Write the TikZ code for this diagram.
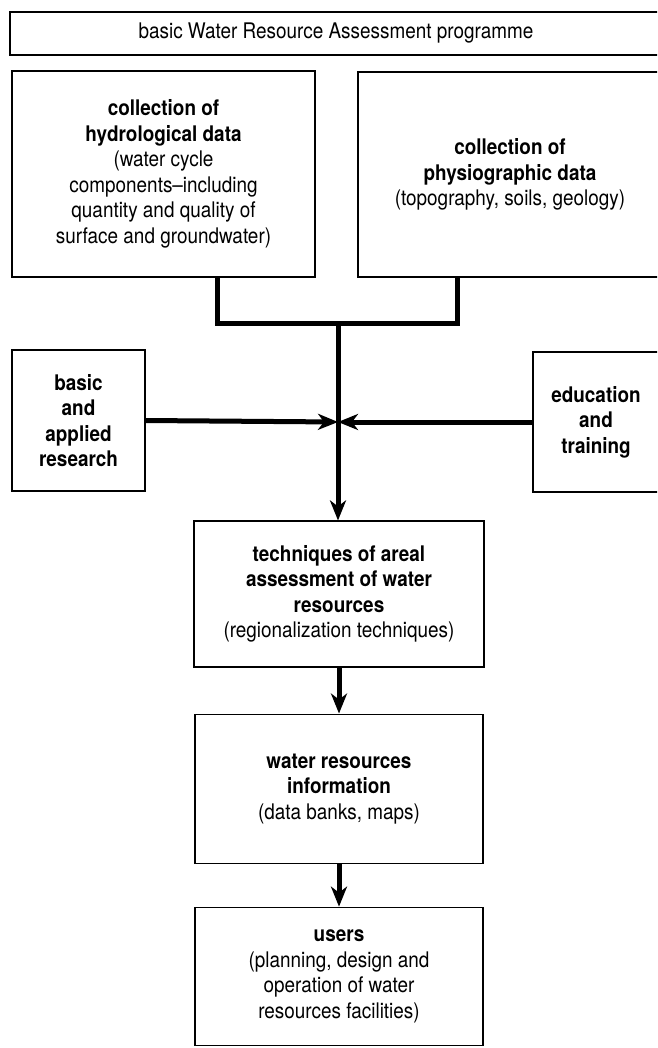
\documentclass[tikz,border=0pt]{standalone}
\usepackage{fontspec}
\setmainfont{TeX Gyre Heros}[FakeStretch=0.88]
\usetikzlibrary{arrows.meta,positioning}

\begin{document}
\begin{tikzpicture}[x=1pt,y=-1pt]
% Define styles
\tikzstyle{box} = [rectangle, draw=black, line width=1.1pt, align=center, inner sep=4pt, font=\fontsize{21.5}{25.5}\selectfont]
\tikzstyle{conn} = [line width=5pt]
\tikzstyle{arrow} = [line width=5pt, -{Stealth[length=20pt,width=16pt,inset=6pt]}]

\useasboundingbox (0,0) rectangle (657,1048);
\clip (0,0) rectangle (657,1048);

% Draw nodes
\node (banner) [box, minimum width=652pt, minimum height=43pt] at (336,33.5) {basic Water Resource Assessment programme};
\node (hydro) [box, minimum width=303pt, minimum height=206pt] at (163.5,174) {\textbf{collection of}\\\textbf{hydrological data}\\(water cycle\\components--including\\quantity and quality of\\surface and groundwater)};
\node (phys) [box, minimum width=304pt, minimum height=205pt] at (510,174.5) {\textbf{collection of}\\\textbf{physiographic data}\\(topography, soils, geology)};
\node (research) [box, minimum width=133pt, minimum height=141pt] at (78.5,420.5) {\textbf{basic}\\\textbf{and}\\\textbf{applied}\\\textbf{research}};
\node (edu) [box, minimum width=126pt, minimum height=140pt] at (596,422) {\textbf{education}\\\textbf{and}\\\textbf{training}};
\node (tech) [box, minimum width=290pt, minimum height=146pt] at (339,594) {\textbf{techniques of areal}\\\textbf{assessment of water}\\\textbf{resources}\\(regionalization techniques)};
\node (water) [box, minimum width=288pt, minimum height=149pt, below=46pt of tech] {\textbf{water resources}\\\textbf{information}\\(data banks, maps)};
\node (users) [box, minimum width=288pt, minimum height=138pt, below=43pt of water] {\textbf{users}\\(planning, design and\\operation of water\\resources facilities)};

\coordinate (bar) at (338,323);
\coordinate (jn) at (338,422);

% Draw arrows
\draw [conn] ([xshift=54pt]hydro.south) |- (bar) -| ([xshift=-53pt]phys.south);
\draw [conn] (bar) -- (jn);
\draw [arrow] (jn) -- (jn |- tech.north);
\draw [arrow] (research.east) -- (jn);
\draw [arrow] (edu.west) -- (jn);
\draw [arrow] (tech.south) -- (tech.south |- water.north);
\draw [arrow] (water.south) -- (water.south |- users.north);
\end{tikzpicture}
\end{document}
